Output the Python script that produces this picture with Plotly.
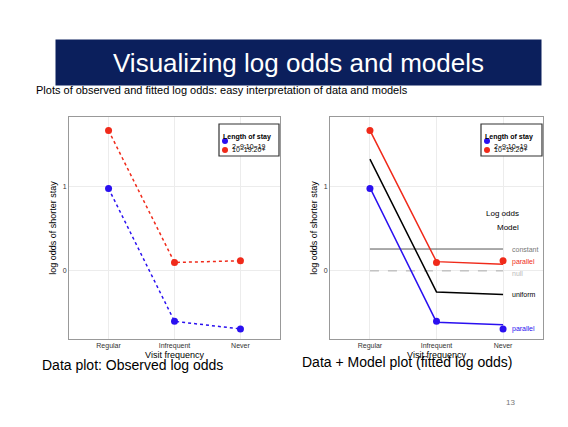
import plotly.graph_objects as go

# Data
visits = ['Regular', 'Infrequent', 'Never']
obs_short = [0.98, -0.60, -0.69]   # 2-9:10-19
obs_long = [1.67, 0.10, 0.12]      # 10-19:20+
fit_short = [0.99, -0.61, -0.64]
fit_long = [1.67, 0.11, 0.08]
fit_uniform = [1.33, -0.25, -0.28]
fit_constant = [0.26, 0.26, 0.26]
fit_null = [0, 0, 0]
groups = ['2\u22129:10\u221219', '10\u221219:20+']

BLUE = '#2a10f0'
RED = '#f02a1a'

# page has an 8px body margin, so map slide pixels into the figure
W, H = 560, 419
def px(x):
    return (x - 8) / W
def py(y):
    return 1 - (y - 8) / H

fig = go.Figure()

# Left: observed log odds
for ys, c in [(obs_short, BLUE), (obs_long, RED)]:
    fig.add_trace(go.Scatter(x=visits, y=ys, mode='lines+markers', line=dict(color=c, dash='dot', width=1.5),
                             marker=dict(size=7, color=c), xaxis='x', yaxis='y', showlegend=False))

# Right: data + model
fig.add_trace(go.Scatter(x=visits, y=fit_constant, mode='lines', line=dict(color='#555', width=1),
                         xaxis='x2', yaxis='y2', showlegend=False))
fig.add_trace(go.Scatter(x=visits, y=fit_null, mode='lines', line=dict(color='#aaa', width=1, dash='dash'),
                         xaxis='x2', yaxis='y2', showlegend=False))
fig.add_trace(go.Scatter(x=visits, y=fit_uniform, mode='lines', line=dict(color='black', width=1.5),
                         xaxis='x2', yaxis='y2', showlegend=False))
fig.add_trace(go.Scatter(x=visits, y=fit_short, mode='lines', line=dict(color=BLUE, width=1.5),
                         xaxis='x2', yaxis='y2', showlegend=False))
fig.add_trace(go.Scatter(x=visits, y=fit_long, mode='lines', line=dict(color=RED, width=1.5),
                         xaxis='x2', yaxis='y2', showlegend=False))
for ys, c in [(obs_short, BLUE), (obs_long, RED)]:
    fig.add_trace(go.Scatter(x=visits, y=ys, mode='markers', marker=dict(size=7, color=c),
                             xaxis='x2', yaxis='y2', showlegend=False))

ax = dict(showline=True, linecolor='#999', mirror=True, gridcolor='#ececec', zeroline=False,
          tickfont=dict(size=7, color='#333'), ticks='', showgrid=True)
xax = dict(ax, range=[-0.6, 2.6], title=dict(text='Visit frequency', font=dict(size=9), standoff=0))
yax = dict(ax, range=[-0.81, 1.83], tickvals=[0, 1],
           title=dict(text='log odds of shorter stay', font=dict(size=9), standoff=4))
ydom = [py(339), py(117)]

annots = [
    dict(text='Visualizing log odds and models', x=px(298), y=py(39), xref='paper', yref='paper',
         showarrow=False, font=dict(size=26, color='white'), bgcolor='#0b1f5c', width=483, height=43),
    dict(text='Plots of observed and fitted log odds: easy interpretation of data and models',
         x=px(34), y=py(82), xref='paper', yref='paper', xanchor='left', showarrow=False,
         font=dict(size=11, color='black')),
    dict(text='Data plot: Observed log odds', x=px(40), y=py(375), xref='paper', yref='paper',
         xanchor='left', showarrow=False, font=dict(size=14, color='black')),
    dict(text='Data + Model plot (fitted log odds)', x=px(300), y=py(372), xref='paper', yref='paper',
         xanchor='left', showarrow=False, font=dict(size=14, color='black')),
    dict(text='13', x=px(517), y=py(409), xref='paper', yref='paper', showarrow=False,
         font=dict(size=8, color='#777')),
    dict(text='Log odds', x=px(521), y=py(213), xref='paper', yref='paper', showarrow=False,
         font=dict(size=8, color='black')),
    dict(text='Model', x=px(521), y=py(227), xref='paper', yref='paper', showarrow=False,
         font=dict(size=8, color='black')),
]
labels = [('constant', fit_constant[2], '#777'), ('parallel', fit_long[2] + 0.03, RED),
          ('null', fit_null[2] - 0.03, '#bbb'), ('uniform', fit_uniform[2], 'black'),
          ('parallel', obs_short[2], BLUE)]
for t, yv, c in labels:
    annots.append(dict(text=t, x=2.1, y=yv, xref='x2', yref='y2', xanchor='left', showarrow=False,
                       font=dict(size=7, color=c)))

# hand-drawn legends (compact ggplot-style boxes)
shapes = []
for x0, x1 in [(219, 279), (481, 542)]:
    shapes.append(dict(type='rect', xref='paper', yref='paper', x0=px(x0), x1=px(x1), y0=py(156), y1=py(124),
                       line=dict(color='#333', width=1.2), fillcolor='white'))
    annots.append(dict(text='<b>Length of stay</b>', x=px(x0 + 2), y=py(131), xref='paper', yref='paper',
                       xanchor='left', showarrow=False, font=dict(size=7, color='black')))
    for i, (g, c) in enumerate(zip(groups, [BLUE, RED])):
        yc = 141 + i * 9
        shapes.append(dict(type='circle', xref='paper', yref='paper', x0=px(x0 + 3), x1=px(x0 + 9),
                           y0=py(yc + 3), y1=py(yc - 3), fillcolor=c, line=dict(width=0)))
        annots.append(dict(text=g, x=px(x0 + 11), y=py(yc), xref='paper', yref='paper', xanchor='left',
                           showarrow=False, font=dict(size=7, color='black')))

fig.update_layout(
    width=W, height=H, margin=dict(l=0, r=0, t=0, b=0),
    paper_bgcolor='white', plot_bgcolor='white',
    font=dict(family='Arial, Liberation Sans, sans-serif', color='black'),
    xaxis=dict(xax, domain=[px(69), px(280)], anchor='y'),
    yaxis=dict(yax, domain=ydom, anchor='x'),
    xaxis2=dict(xax, domain=[px(330), px(543)], anchor='y2'),
    yaxis2=dict(yax, domain=ydom, anchor='x2'),
    shapes=shapes,
    annotations=annots,
)

fig.write_html('out.html')
